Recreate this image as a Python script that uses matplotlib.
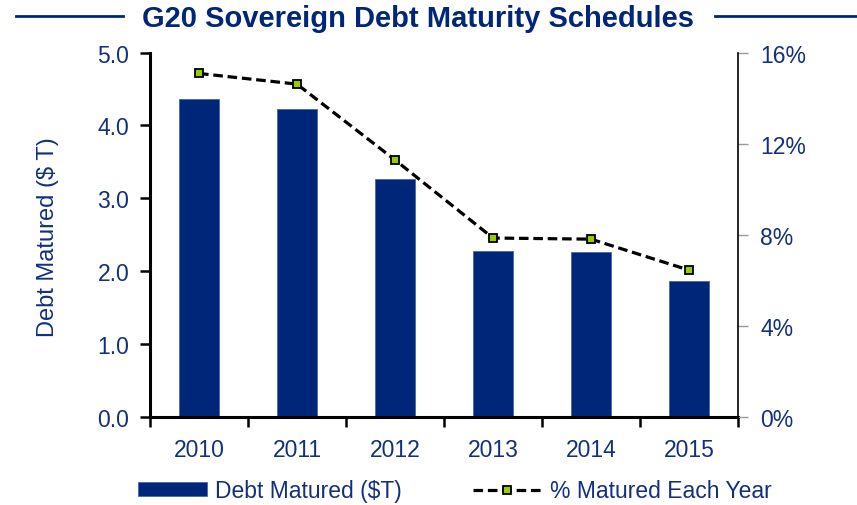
import matplotlib.pyplot as plt
from matplotlib.lines import Line2D
from matplotlib.ticker import FuncFormatter

plt.rcParams['font.family'] = ['Liberation Sans', 'DejaVu Sans']

# Data
years = ["2010", "2011", "2012", "2013", "2014", "2015"]
debt_matured = [4.36, 4.22, 3.26, 2.27, 2.26, 1.86]
pct_matured = [15.08, 14.61, 11.28, 7.85, 7.80, 6.44]

navy = "#00267A"
text_color = "#12307F"

fig = plt.figure(figsize=(8.57, 5.06), dpi=100)
ax = fig.add_axes([150 / 857, 1 - 417.7 / 506, (738 - 150) / 857, (417.7 - 53.5) / 506])

x = list(range(len(years)))
ax.bar(x, debt_matured, width=0.4, color=navy, edgecolor="#4A64A8", linewidth=0.6,
       label="Debt Matured ($T)", zorder=2)
ax.set_xlim(-0.5, len(years) - 0.5)
ax.set_ylim(0, 5)
ax.set_yticks([0, 1, 2, 3, 4, 5])
ax.yaxis.set_major_formatter(FuncFormatter(lambda v, p: f"{v:.1f}"))
ax.set_xticks(x)
ax.set_xticklabels(years)
ax.set_xticks([i - 0.5 for i in range(len(years) + 1)], minor=True)
ax.tick_params(axis="x", which="major", length=0, pad=15, labelsize=16.5, labelcolor=text_color)
ax.tick_params(axis="x", which="minor", length=7, width=1.8, color="black", direction="out")
ax.tick_params(axis="y", length=7, width=1.8, color="black", labelsize=16.5,
               labelcolor=text_color, pad=8)
for s in ["left", "bottom"]:
    ax.spines[s].set_linewidth(2.2)
ax.spines["top"].set_visible(False)
ax.spines["right"].set_visible(False)

ax2 = ax.twinx()
ax2.plot(x, pct_matured, linestyle=(0, (3, 1.5)), color="black", linewidth=2.3,
         marker="s", markersize=6, markerfacecolor="#99CC00", markeredgecolor="black",
         markeredgewidth=1.3, label="% Matured Each Year", zorder=3)
ax2.set_ylim(0, 16)
ax2.set_yticks([0, 4, 8, 12, 16])
ax2.yaxis.set_major_formatter(FuncFormatter(lambda v, p: f"{v:.0f}%"))
ax2.tick_params(axis="y", length=7, width=1, color="#999999", labelsize=16.5,
                labelcolor=text_color, pad=9)
ax2.spines["right"].set_linewidth(1.2)
for s in ["left", "top", "bottom"]:
    ax2.spines[s].set_visible(False)

fig.text(48 / 857, 1 - 237.5 / 506, "Debt Matured ($ T)", rotation=90, fontsize=17,
         color=text_color, ha="center", va="center")

# Title with rules either side
fig.text(418 / 857, 1 - 19 / 506, "G20 Sovereign Debt Maturity Schedules", fontsize=21,
         fontweight="bold", color=navy, ha="center", va="center")
fig.add_artist(Line2D([16 / 857, 123 / 857], [1 - 17 / 506, 1 - 17 / 506], color=navy, linewidth=2))
fig.add_artist(Line2D([715 / 857, 1.0], [1 - 17 / 506, 1 - 17 / 506], color=navy, linewidth=2))

h1, l1 = ax.get_legend_handles_labels()
h2, l2 = ax2.get_legend_handles_labels()
leg = fig.legend(h1 + h2, l1 + l2, loc="center left", bbox_to_anchor=(129 / 857, 1 - 492 / 506),
                 ncol=2, frameon=False, fontsize=16.5, handlelength=3.0, handleheight=0.55,
                 handletextpad=0.35, columnspacing=3.1, borderaxespad=0)
for t in leg.get_texts():
    t.set_color(text_color)

fig.savefig("out.png", dpi=100)
